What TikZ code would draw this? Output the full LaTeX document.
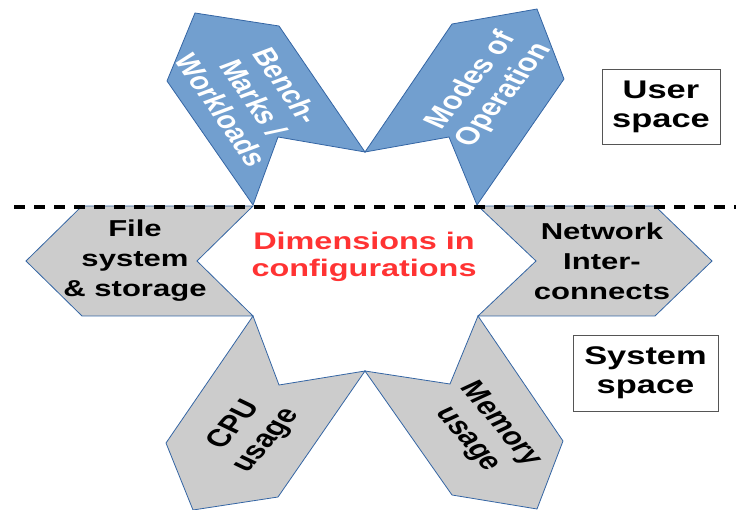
\documentclass[tikz,border=0pt]{standalone}
\usepackage{fontspec}
\setmainfont{Liberation Sans}
\newfontfamily\widesans[FakeStretch=1.35]{Liberation Sans}
\definecolor{bluefill}{HTML}{729FCF}
\definecolor{blueline}{HTML}{3465A4}
\definecolor{grayfill}{HTML}{CCCCCC}
\definecolor{redtext}{HTML}{FF3333}
\definecolor{boxline}{HTML}{555555}
\tikzset{
  userarrow/.style={fill=bluefill, draw=blueline, line width=0.8pt, line join=miter},
  sysarrow/.style={fill=grayfill, draw=blueline, line width=0.8pt, line join=miter},
  hlbl/.style={inner sep=0pt, align=center, font=\widesans\bfseries\fontsize{23}{30}\selectfont},
  rlbl/.style={inner sep=0pt, align=center, transform shape, font=\bfseries\fontsize{24.5}{28}\selectfont},
  spacebox/.style={draw=boxline, line width=0.9pt, inner sep=0pt, align=center,
    font=\widesans\bfseries\fontsize{25.5}{29}\selectfont},
  divider/.style={line width=3.5pt, dash pattern=on 11pt off 9pt}
}
\begin{document}
\begin{tikzpicture}[x=1pt,y=1pt]
\useasboundingbox (0,0) rectangle (736,-510);
% user-space chevrons
\draw[userarrow] (195,-13) -- (279,-26) -- (365,-152) -- (278,-137) -- (253,-205) -- (167,-81) -- cycle;
\draw[userarrow] (365,-152) -- (452,-24) -- (537,-9) -- (564,-79) -- (477,-205) -- (449,-137) -- cycle;
% system-space chevrons
\draw[sysarrow] (82,-206) -- (253,-206) -- (197,-261) -- (253,-316) -- (82,-316) -- (26,-261) -- cycle;
\draw[sysarrow] (478,-206) -- (655,-206) -- (712,-261) -- (655,-316) -- (478,-316) -- (536,-261) -- cycle;
\draw[sysarrow] (253,-316) -- (279,-385) -- (365,-371) -- (278,-497) -- (193,-510) -- (166,-443) -- cycle;
\draw[sysarrow] (365,-371) -- (450,-384) -- (478,-316) -- (563,-441) -- (537,-509) -- (452,-495) -- cycle;
% rotated labels
\begin{scope}[shift={(254,-98)}, xscale=1.35]
  \node[rlbl, rotate=-63, text=white, font=\bfseries\fontsize{24}{27}\selectfont] (bench) {Bench-\\Marks /\\Workloads};
\end{scope}
\begin{scope}[shift={(488,-88)}, xscale=1.35]
  \node[rlbl, rotate=59, text=white] (modes) {Modes of\\Operation};
\end{scope}
\begin{scope}[shift={(251,-433)}, xscale=1.35]
  \node[rlbl, rotate=57] (cpu) {CPU\\usage};
\end{scope}
\begin{scope}[shift={(484,-432)}, xscale=1.35]
  \node[rlbl, rotate=-58] (mem) {Memory\\usage};
\end{scope}
% horizontal labels
\node[hlbl] (file) at (135,-261) {File\\system\\\& storage};
\node[hlbl] (net) at (602,-261) {Network\\Inter-\\connects};
\node[hlbl, text=redtext, font=\widesans\bfseries\fontsize{24}{27}\selectfont] (dim) at (364,-257) {Dimensions in\\configurations};
% space boxes
\node[spacebox, minimum width=118pt, minimum height=75pt] (user) at (661,-106.5) {User\\space};
\node[spacebox, minimum width=145pt, minimum height=76pt] (sys) at (645.5,-373) {System\\space};
% divider
\coordinate (dl) at (14,-207);
\coordinate (dr) at (736,-207);
\draw[divider] (dl) -- (dr);
\end{tikzpicture}
\end{document}
